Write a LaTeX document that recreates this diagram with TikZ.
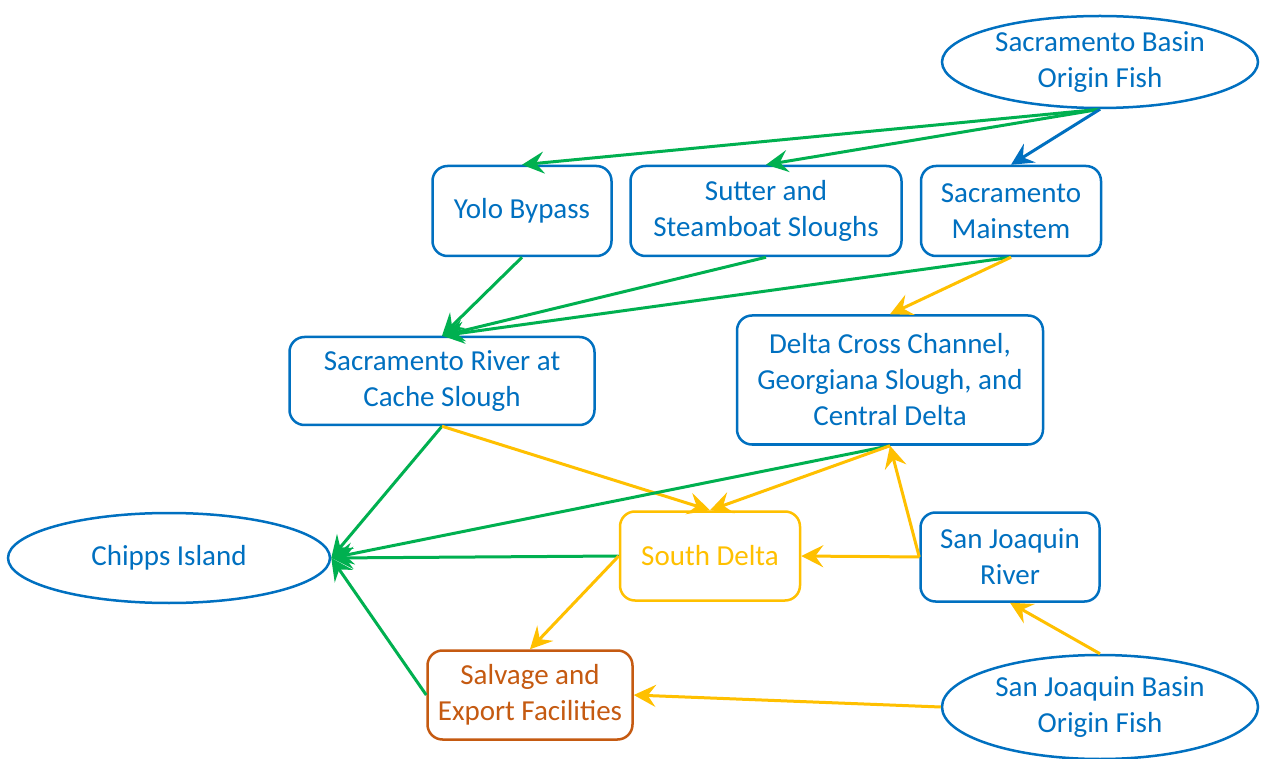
\documentclass[tikz,border=0pt]{standalone}
\usepackage{fontspec}
\setmainfont{Carlito}
\usetikzlibrary{arrows.meta,shapes.geometric}
\definecolor{cblue}{HTML}{0070C0}
\definecolor{cgreen}{HTML}{00B050}
\definecolor{cyellow}{HTML}{FFC000}
\definecolor{corange}{HTML}{C55A11}
\tikzset{
  box/.style={draw=cblue, text=cblue, line width=2.5pt, rounded corners=15pt,
    align=center, inner sep=0pt, font=\fontsize{29}{36}\selectfont},
  oval/.style={ellipse, draw=cblue, text=cblue, line width=2.5pt,
    align=center, inner sep=0pt, font=\fontsize{29}{36}\selectfont},
  flow/.style={line width=3pt, -{Stealth[length=22pt,width=22pt,inset=8pt]}},
  gflow/.style={flow, draw=cgreen},
  yflow/.style={flow, draw=cyellow},
  bflow/.style={flow, draw=cblue},
}
\begin{document}
\begin{tikzpicture}[x=1pt,y=-1pt]
\useasboundingbox (0,0) rectangle (1262,759);
\fill[white] (0,0) rectangle (1262,759);

% origin populations
\node[oval, minimum width=316pt, minimum height=92pt] (sb) at (1100,62) {Sacramento Basin\\Origin Fish};
\node[oval, minimum width=316pt, minimum height=104pt] (jb) at (1100,707) {San Joaquin Basin\\Origin Fish};

% upper routes
\node[box, minimum width=179pt, minimum height=90pt] (yolo) at (522,211) {Yolo Bypass};
\node[box, minimum width=271pt, minimum height=90pt] (sutter) at (766,211) {Sutter and\\Steamboat Sloughs};
\node[box, minimum width=180pt, minimum height=90pt] (main) at (1011,211) {Sacramento\\Mainstem};

% middle reaches
\node[box, minimum width=305pt, minimum height=88pt] (cache) at (442,381) {Sacramento River at\\Cache Slough};
\node[box, minimum width=306pt, minimum height=129pt] (dcc) at (890,380) {Delta Cross Channel,\\Georgiana Slough, and\\Central Delta};

% lower reaches
\node[oval, minimum width=322pt, minimum height=90pt] (chipps) at (169,558) {Chipps Island};
\node[box, draw=cyellow, text=cyellow, minimum width=180pt, minimum height=89pt] (south) at (710,556) {South Delta};
\node[box, minimum width=179pt, minimum height=89pt] (sjr) at (1010,557) {San Joaquin\\River};
\node[box, draw=corange, text=corange, minimum width=205pt, minimum height=89pt] (salv) at (530,695) {Salvage and\\Export Facilities};

% Sacramento basin routing
\draw[gflow] (sb.south) -- (yolo.north);
\draw[gflow] (sb.south) -- (sutter.north);
\draw[bflow] (sb.south) -- (main.north);
\draw[gflow] (yolo.south) -- (cache.north);
\draw[gflow] (sutter.south) -- (cache.north);
\draw[gflow] (main.south) -- (cache.north);
\draw[yflow] (main.south) -- (dcc.north);

% toward Chipps Island and the South Delta
\draw[gflow] (cache.south) -- (chipps.east);
\draw[yflow] (cache.south) -- (south.north);
\draw[gflow] (dcc.south) -- (chipps.east);
\draw[yflow] (dcc.south) -- (south.north);
\draw[gflow] (south.west) -- (chipps.east);
\draw[yflow] (south.west) -- (salv.north);
\draw[gflow] (salv.west) -- (chipps.east);

% San Joaquin routing
\draw[yflow] (sjr.west) -- (south.east);
\draw[yflow] (sjr.west) -- (dcc.south);
\draw[yflow] (jb.north) -- (sjr.south);
\draw[yflow] (jb.west) -- (salv.east);
\end{tikzpicture}
\end{document}
